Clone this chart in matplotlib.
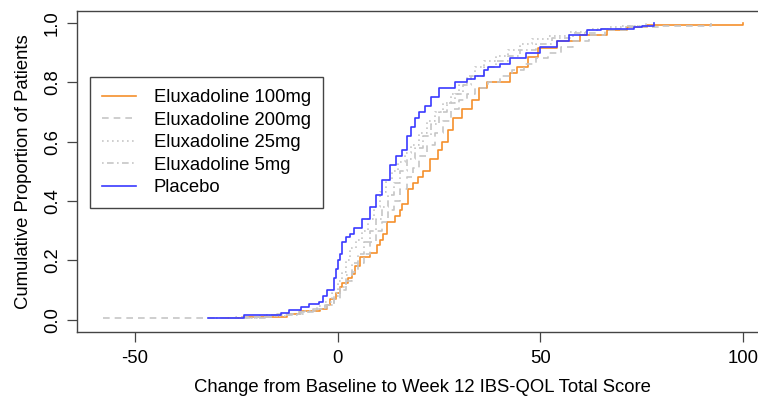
import numpy as np
from matplotlib import pyplot as plt

plt.rcParams['font.family'] = ['Liberation Sans', 'DejaVu Sans']

# ---Step points (change score, cumulative proportion)----
x_100 = [-28.4, -23.5, -12.6, -9.4, -4.4, -2.5, -2.0, -0.5, 0.5, 1.2, 2.5, 3.5, 4.4, 5.4,
         7.9, 9.6, 10.4, 11.1, 12.1, 14.1, 15.3, 16.0, 17.3, 18.5, 19.8, 21.0, 22.7, 24.7,
         25.7, 27.2, 28.4, 30.6, 33.1, 35.0, 36.8, 42.5, 44.2, 46.9, 49.4, 54.0, 59.8,
         66.4, 71.4, 76.3, 100.0]
y_100 = [0.005, 0.01, 0.02, 0.03, 0.037, 0.05, 0.07, 0.09, 0.11, 0.125, 0.14, 0.155, 0.18,
         0.21, 0.226, 0.25, 0.27, 0.29, 0.33, 0.35, 0.37, 0.39, 0.44, 0.46, 0.48, 0.50,
         0.54, 0.57, 0.60, 0.64, 0.68, 0.71, 0.74, 0.78, 0.80, 0.83, 0.85, 0.885, 0.915,
         0.94, 0.96, 0.975, 0.985, 0.993, 1.0]

x_200 = [-58, -25, -15, -9, -5, -2.5, -1, 0.5, 2, 3.5, 5, 6.5, 8, 9.5, 11, 12.5, 14, 15.5,
         17, 18.5, 20, 22, 24, 26, 28, 30, 32, 34, 37, 40, 43, 46, 49, 52, 55, 58, 62, 66,
         72, 80, 92]
y_200 = [0.005, 0.01, 0.018, 0.025, 0.035, 0.05, 0.07, 0.10, 0.13, 0.16, 0.19, 0.22, 0.26,
         0.30, 0.33, 0.37, 0.40, 0.44, 0.48, 0.51, 0.55, 0.59, 0.63, 0.67, 0.71, 0.74,
         0.76, 0.78, 0.80, 0.82, 0.84, 0.86, 0.88, 0.90, 0.92, 0.94, 0.96, 0.975, 0.985,
         0.99, 1.0]

x_25 = [-30, -20, -12, -8, -5, -3, -1.5, 0, 1, 2, 3, 4.5, 6, 7.5, 9, 10.5, 12, 13.5, 15,
        16.5, 18, 20, 22, 24, 26, 28, 30, 32, 34, 36, 39, 42, 45, 48, 52, 57, 62, 67, 72, 77]
y_25 = [0.005, 0.012, 0.02, 0.03, 0.045, 0.06, 0.09, 0.13, 0.16, 0.20, 0.24, 0.27, 0.30,
        0.34, 0.38, 0.43, 0.47, 0.50, 0.53, 0.56, 0.59, 0.63, 0.67, 0.70, 0.73, 0.76,
        0.79, 0.82, 0.85, 0.87, 0.89, 0.91, 0.93, 0.945, 0.955, 0.97, 0.98, 0.985, 0.99, 1.0]

x_5 = [-28, -18, -10, -6, -3, -1, 0.5, 2, 3.5, 5, 6.5, 8, 9.5, 11, 12.5, 14, 15.5, 17, 19,
       21, 23, 25, 27, 29, 31, 33, 36, 39, 42, 45, 49, 53, 58, 64, 70, 76]
y_5 = [0.005, 0.015, 0.025, 0.035, 0.05, 0.08, 0.11, 0.15, 0.19, 0.22, 0.26, 0.30, 0.34,
       0.38, 0.42, 0.46, 0.50, 0.54, 0.58, 0.62, 0.66, 0.70, 0.73, 0.76, 0.79, 0.82,
       0.85, 0.87, 0.89, 0.91, 0.93, 0.95, 0.965, 0.98, 0.99, 1.0]

x_pl = [-32, -23, -14, -12, -9, -7, -4.5, -3.5, -2.5, -1, -0.5, 0, 0.5, 1, 2, 3, 4, 6, 8,
        9.5, 11, 13, 14.5, 16, 17, 18, 19, 20, 21.5, 23, 25, 29, 32, 34, 36, 37, 40, 42.5,
        46.5, 50, 54, 57, 61.5, 65, 73, 75, 78]
y_pl = [0.005, 0.017, 0.024, 0.034, 0.041, 0.051, 0.061, 0.081, 0.10, 0.14, 0.17, 0.20,
        0.22, 0.26, 0.28, 0.29, 0.31, 0.34, 0.38, 0.42, 0.47, 0.52, 0.55, 0.57, 0.62,
        0.65, 0.68, 0.70, 0.72, 0.75, 0.78, 0.80, 0.81, 0.82, 0.84, 0.85, 0.86, 0.88,
        0.90, 0.92, 0.94, 0.96, 0.975, 0.98, 0.985, 0.99, 1.0]

fontsize = 13.3
fig = plt.figure(figsize=(7.58, 3.97), dpi=100, facecolor='w')
ax = fig.add_axes([77/758, 1-331.5/397, (768.5-77)/758, (331.5-11)/397])

lw = 1.2
ax.step(x_100, y_100, where='post', color='#f5902c', lw=lw, label='Eluxadoline 100mg')
ax.step(x_200, y_200, where='post', color='#c6c6c6', lw=lw, ls=(0, (4, 3)), label='Eluxadoline 200mg')
ax.step(x_25, y_25, where='post', color='#c6c6c6', lw=lw, ls=(0, (1, 2)), label='Eluxadoline 25mg')
ax.step(x_5, y_5, where='post', color='#c6c6c6', lw=lw, ls=(0, (1, 2, 4, 2)), label='Eluxadoline 5mg')
ax.step(x_pl, y_pl, where='post', color='#3a3aff', lw=lw, label='Placebo')

ax.set_xlim(-64.3, 106.3)
ax.set_ylim(-0.04, 1.04)
ax.set_xticks([-50, 0, 50, 100])
ax.set_xticklabels(['-50', '0', '50', '100'])
ax.set_yticks([0, 0.2, 0.4, 0.6, 0.8, 1.0])
ax.set_yticklabels(['0.0', '0.2', '0.4', '0.6', '0.8', '1.0'], rotation=90, va='center')
ax.tick_params(direction='out', length=7.5, width=0.9, color='#444444', labelsize=fontsize)
ax.tick_params(axis='x', pad=5.5)
ax.tick_params(axis='y', pad=4)

for s in ax.spines.values():
    s.set_color('#444444')
    s.set_linewidth(1.0)

ax.set_xlabel('Change from Baseline to Week 12 IBS-QOL Total Score', fontsize=fontsize, labelpad=9)
ax.set_ylabel('Cumulative Proportion of Patients', fontsize=fontsize, labelpad=9)

leg = ax.legend(loc='upper left', bbox_to_anchor=(90/758, 1-77/397), bbox_transform=fig.transFigure,
                borderaxespad=0, fancybox=False, framealpha=1, edgecolor='#444444',
                fontsize=fontsize, handlelength=1.85, handletextpad=0.95, labelspacing=0.3,
                borderpad=0.65)
leg.get_frame().set_linewidth(1.0)

plt.savefig('out.png', dpi=100)
